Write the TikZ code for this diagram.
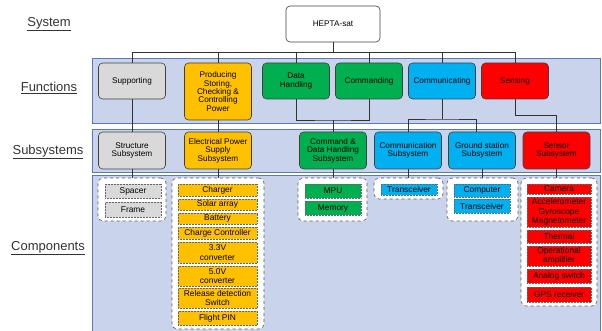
\documentclass[tikz,border=0pt]{standalone}
\usepackage{fontspec}
\setmainfont{Liberation Sans}
\definecolor{bandfill}{HTML}{C9D4EC}
\definecolor{bandline}{HTML}{5A78BE}
\definecolor{cgray}{HTML}{D9D9D9}
\definecolor{cyel}{HTML}{FFC000}
\definecolor{cgreen}{HTML}{00B050}
\definecolor{cblue}{HTML}{00B0F0}
\definecolor{cred}{HTML}{FF0000}
\begin{document}
\begin{tikzpicture}[x=1pt,y=-1pt,
  band/.style={fill=bandfill,draw=bandline,line width=0.8pt},
  box/.style={draw=black!75,rounded corners=4pt,line width=0.6pt,align=center,inner sep=1pt,
    font=\fontsize{8.2}{8.4}\selectfont,minimum width=67pt,minimum height=36pt},
  grp/.style={draw=black!65,fill=white,dashed,line width=0.6pt,rounded corners=5pt,inner sep=0pt},
  item/.style={draw=black!60,densely dotted,line width=0.5pt,inner sep=0pt,align=center,
    font=\fontsize{8.4}{9.4}\selectfont},
  lvl/.style={font=\fontsize{13}{15}\selectfont,text=black!80},
  conn/.style={draw=black!80,line width=0.6pt}]
\useasboundingbox (0,0) rectangle (602,331);
% bands
\draw[band] (92,58) rectangle (600,123);
\draw[band] (92,129) rectangle (600,172);
\draw[band] (92,175) rectangle (600,334);
% level labels
\node[lvl] (lsys) at (49,24) {\underline{System}};
\node[lvl] (lfun) at (49,88) {\underline{Functions}};
\node[lvl] (lsub) at (48,152) {\underline{Subsystems}};
\node[lvl] (lcom) at (48,248) {\underline{Components}};
% system
\node[box,fill=white,minimum width=94pt] (sys) at (333,24) {HEPTA-sat};
% functions
\node[box,fill=cgray] (f1) at (132,81) {Supporting};
\node[box,fill=cyel,minimum height=57pt] (f2) at (218,91.5) {Producing\\Storing,\\Checking \&\\Controlling\\Power};
\node[box,fill=cgreen] (f3) at (296,81) {Data\\Handling};
\node[box,fill=cgreen] (f4) at (369,81) {Commanding};
\node[box,fill=cblue] (f5) at (442,81) {Communicating};
\node[box,fill=cred] (f6) at (515,81) {Sensing};
% subsystems
\node[box,fill=cgray,minimum height=37pt] (s1) at (132,150.5) {Structure\\Subsystem};
\node[box,fill=cyel,minimum height=37pt] (s2) at (218,150.5) {Electrical Power\\Supply\\Subsystem};
\node[box,fill=cgreen,minimum height=37pt] (s3) at (333,150.5) {Command \&\\Data Handling\\Subsystem};
\node[box,fill=cblue,minimum height=37pt] (s4) at (408,150.5) {Communication\\Subsystem};
\node[box,fill=cblue,minimum height=37pt] (s5) at (482,150.5) {Ground station\\Subsystem};
\node[box,fill=cred,minimum height=37pt] (s6) at (556.5,150.5) {Sensor\\Subsystem};
% component groups
\node[grp,minimum width=68pt,minimum height=43pt] (g1) at (132,199.5) {};
\node[grp,minimum width=92pt,minimum height=151pt] (g2) at (218,253.5) {};
\node[grp,minimum width=69pt,minimum height=43pt] (g3) at (332.5,199.5) {};
\node[grp,minimum width=69pt,minimum height=21pt] (g4) at (408.5,188.5) {};
\node[grp,minimum width=71pt,minimum height=43pt] (g5) at (482.5,199.5) {};
\node[grp,minimum width=76pt,minimum height=128pt] (g6) at (559,242) {};
% items
\node[item,fill=cgray,minimum width=56pt,minimum height=14pt] (c11) at (133,191) {Spacer};
\node[item,fill=cgray,minimum width=56pt,minimum height=15pt] (c12) at (133,209.5) {Frame};
\node[item,fill=cyel,minimum width=79pt,minimum height=12pt] (c21) at (217.5,190) {Charger};
\node[item,fill=cyel,minimum width=79pt,minimum height=11pt] (c22) at (217.5,204.5) {Solar array};
\node[item,fill=cyel,minimum width=79pt,minimum height=11pt] (c23) at (217.5,218.5) {Battery};
\node[item,fill=cyel,minimum width=79pt,minimum height=12pt] (c24) at (217.5,233) {Charge Controller};
\node[item,fill=cyel,minimum width=79pt,minimum height=21pt] (c25) at (217.5,252.5) {3.3V\\converter};
\node[item,fill=cyel,minimum width=79pt,minimum height=20pt] (c26) at (217.5,276) {5.0V\\converter};
\node[item,fill=cyel,minimum width=79pt,minimum height=20pt] (c27) at (217.5,298) {Release detection\\Switch};
\node[item,fill=cyel,minimum width=79pt,minimum height=14pt] (c28) at (217.5,318) {Flight PIN};
\node[item,fill=cgreen,minimum width=56pt,minimum height=14pt] (c31) at (333,191) {MPU};
\node[item,fill=cgreen,minimum width=56pt,minimum height=14pt] (c32) at (333,208) {Memory};
\node[item,fill=cblue,minimum width=56pt,minimum height=11pt] (c41) at (409,189.5) {Transceiver};
\node[item,fill=cblue,minimum width=56pt,minimum height=13pt] (c51) at (482,190.5) {Computer};
\node[item,fill=cblue,minimum width=56pt,minimum height=14pt] (c52) at (482,206) {Transceiver};
\node[item,fill=cred,minimum width=64pt,minimum height=10pt] (c61) at (559,189) {Camera};
\node[item,fill=cred,minimum width=64pt,minimum height=30pt] (c62) at (559,212) {Accelerometer\\Gyroscope\\Magnetometer};
\node[item,fill=cred,minimum width=64pt,minimum height=13pt] (c63) at (559,236.5) {Thermal};
\node[item,fill=cred,minimum width=64pt,minimum height=20pt] (c64) at (559,256) {Operational\\amplifier};
\node[item,fill=cred,minimum width=64pt,minimum height=14pt] (c65) at (559,276) {Analog switch};
\node[item,fill=cred,minimum width=64pt,minimum height=15pt] (c66) at (559,294.5) {GPS receiver};
% connectors: system to functions
\coordinate (bus) at (333,52);
\draw[conn] (sys.south) -- (bus);
\foreach \f in {f1,f2,f3,f4,f5,f6} \draw[conn] (\f.north) |- (bus);
% functions to subsystems
\draw[conn] (f1.south) -- (s1.north);
\draw[conn] (f2.south) -- (s2.north);
\coordinate (j3) at (333,120);
\draw[conn] (f3.south) |- (j3) -| (f4.south);
\draw[conn] (j3) -- (s3.north);
\coordinate (j5) at (442,119);
\draw[conn] (f5.south) -- (j5);
\draw[conn] (s4.north) |- (j5) -| ([xshift=-6pt]s5.north);
\draw[conn] (f6.south) -- ++(0,16) -| (s6.north);
% subsystems to groups
\draw[conn] (s1.south) -- (g1.north -| s1.south);
\draw[conn] (s2.south) -- (g2.north -| s2.south);
\draw[conn] (s3.south) -- (g3.north -| s3.south);
\draw[conn] (s4.south) -- (g4.north -| s4.south);
\draw[conn] (s5.south) -- (g5.north -| s5.south);
\draw[conn] (s6.south) -- (g6.north -| s6.south);
\end{tikzpicture}
\end{document}
